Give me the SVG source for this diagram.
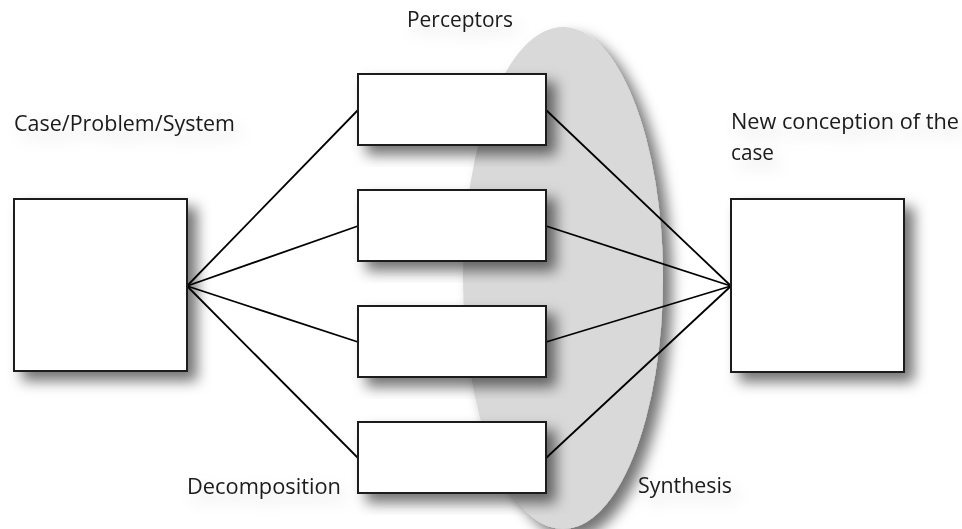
<svg xmlns="http://www.w3.org/2000/svg" width="962" height="529" viewBox="0 0 962 529">
  <defs>
    <filter id="shadow" x="-30%" y="-30%" width="160%" height="160%">
      <feDropShadow dx="9" dy="9" stdDeviation="7" flood-color="#000" flood-opacity="0.55"/>
    </filter>
    <filter id="textShadow" x="-20%" y="-80%" width="140%" height="260%">
      <feDropShadow dx="6" dy="8" stdDeviation="8" flood-color="#000" flood-opacity="0.15"/>
    </filter>
  </defs>
  <style>
    .box { fill: #ffffff; stroke: #1a1a1a; stroke-width: 2; }
    .link { stroke: #000; stroke-width: 1.8; fill: none; }
    .label { font-family: "Open Sans", "Liberation Sans", sans-serif; font-size: 21px; fill: #1a1a1a; }
  </style>
  <rect width="962" height="529" fill="#ffffff"/>

  <!-- synthesis region -->
  <g id="synthesis-region" filter="url(#shadow)">
    <ellipse cx="563" cy="278" rx="100" ry="251" fill="#d9d9d9"/>
  </g>

  <!-- connectors -->
  <g id="connectors">
    <line class="link" x1="187" y1="286" x2="358" y2="110"/>
    <line class="link" x1="187" y1="286" x2="358" y2="226"/>
    <line class="link" x1="187" y1="286" x2="358" y2="342"/>
    <line class="link" x1="187" y1="286" x2="358" y2="458"/>
    <line class="link" x1="546" y1="110" x2="731" y2="286"/>
    <line class="link" x1="546" y1="226" x2="731" y2="286"/>
    <line class="link" x1="546" y1="342" x2="731" y2="286"/>
    <line class="link" x1="546" y1="458" x2="731" y2="286"/>
  </g>

  <g id="case" filter="url(#shadow)">
    <rect class="box" x="14" y="199" width="173" height="172"/>
  </g>
  <g id="perceptor-1" filter="url(#shadow)">
    <rect class="box" x="358" y="74" width="188" height="71"/>
  </g>
  <g id="perceptor-2" filter="url(#shadow)">
    <rect class="box" x="358" y="190" width="188" height="71"/>
  </g>
  <g id="perceptor-3" filter="url(#shadow)">
    <rect class="box" x="358" y="306" width="188" height="71"/>
  </g>
  <g id="perceptor-4" filter="url(#shadow)">
    <rect class="box" x="358" y="422" width="188" height="71"/>
  </g>
  <g id="new-conception" filter="url(#shadow)">
    <rect class="box" x="731" y="199" width="173" height="173"/>
  </g>

  <!-- labels -->
  <g id="labels" filter="url(#textShadow)">
    <text class="label" x="407" y="27" textLength="106" lengthAdjust="spacingAndGlyphs">Perceptors</text>
    <text class="label" x="14" y="131" textLength="221" lengthAdjust="spacingAndGlyphs">Case/Problem/System</text>
    <text class="label" x="731" y="129" textLength="228" lengthAdjust="spacingAndGlyphs">New conception of the</text>
    <text class="label" x="731" y="160" textLength="43" lengthAdjust="spacingAndGlyphs">case</text>
    <text class="label" x="187" y="494" textLength="154" lengthAdjust="spacingAndGlyphs">Decomposition</text>
    <text class="label" x="638" y="493" textLength="94" lengthAdjust="spacingAndGlyphs">Synthesis</text>
  </g>
</svg>
